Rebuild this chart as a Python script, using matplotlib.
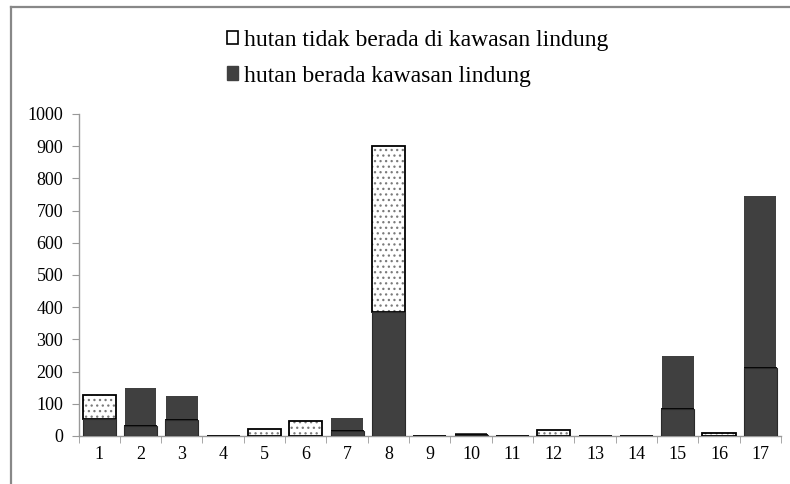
import matplotlib
matplotlib.use("Agg")
import matplotlib.pyplot as plt
import matplotlib.patches as mpatches
from matplotlib.lines import Line2D
import numpy as np

plt.rcParams["font.family"] = ["Liberation Serif", "DejaVu Serif"]
plt.rcParams["hatch.linewidth"] = 0.9

# nomor kategori (sumbu x)
kategori = [str(i) for i in range(1, 18)]
# bagian bawah: hutan berada kawasan lindung (gelap, bergaris tepi)
berada = [52, 30, 50, 1.5, 0, 1, 15, 385, 1.5, 4, 1.5, 0, 1.5, 1.5, 85, 1, 210]
# bagian tengah: hutan tidak berada di kawasan lindung (putih bertitik)
tidak = [76, 0, 0, 0, 22, 47, 0, 515, 0, 0, 0, 20, 0, 0, 0, 9, 0]
# bagian atas tanpa garis tepi (ikut gelap, tidak masuk legenda)
sisa = [0, 120, 75, 0, 0, 0, 40, 0, 0, 4, 0, 0, 0, 0, 163, 0, 535]

DARK = "#404040"
x = np.arange(1, len(kategori) + 1)
w = 0.8
b_tidak = np.array(berada)
b_sisa = b_tidak + np.array(tidak)

fig = plt.figure(figsize=(7.9, 4.84), dpi=100)
ax = fig.add_axes([0.0994, 0.0992, 0.8892, 0.6653])

ax.bar(x, sisa, w * 0.96, bottom=b_sisa, color=DARK, linewidth=0, zorder=2)
# titik-titik dulu, garis tepi hitam sesudahnya
ax.bar(x, tidak, w, bottom=b_tidak, color="white", edgecolor="#7a7a7a",
       hatch="...", linewidth=0, zorder=3)
ax.bar(x, tidak, w, bottom=b_tidak, fill=False, edgecolor="black",
       linewidth=1.3, zorder=4)
ax.bar(x, berada, w, color=DARK, edgecolor="#2a2a2a", linewidth=0.8, zorder=5)

ax.set_xlim(0.5, len(kategori) + 0.5)
ax.set_ylim(0, 1000)
ax.set_yticks(np.arange(0, 1001, 100))
ax.set_xticks(x)
ax.set_xticklabels(kategori)
ax.set_xticks(np.arange(0.5, len(kategori) + 1, 1), minor=True)
ax.tick_params(axis="x", which="major", length=0, labelsize=13, pad=7)
ax.tick_params(axis="x", which="minor", length=5, color="#999999", direction="out")
ax.tick_params(axis="y", length=5, color="#999999", labelsize=13, pad=6)
for s in ["top", "right"]:
    ax.spines[s].set_visible(False)
for s in ["left", "bottom"]:
    ax.spines[s].set_color("#999999")
    ax.spines[s].set_linewidth(1.0)

handles = [
    mpatches.Patch(facecolor="white", edgecolor="black", linewidth=1.2,
                   label="hutan tidak berada di kawasan lindung"),
    mpatches.Patch(facecolor=DARK, edgecolor=DARK, label="hutan berada kawasan lindung"),
]
fig.legend(handles=handles, loc="upper left", bbox_to_anchor=(0.26, 0.982),
           frameon=False, fontsize=17, handlelength=0.5, handleheight=0.5,
           handletextpad=0.25, labelspacing=0.62, alignment="left")

# bingkai luar (kiri dan atas)
fig.add_artist(Line2D([0.0145, 0.0145], [0.0, 0.985], transform=fig.transFigure,
                      color="#888888", linewidth=1.6))
fig.add_artist(Line2D([0.0145, 1.0], [0.985, 0.985], transform=fig.transFigure,
                      color="#888888", linewidth=1.6))

fig.savefig("out.png", dpi=100)
